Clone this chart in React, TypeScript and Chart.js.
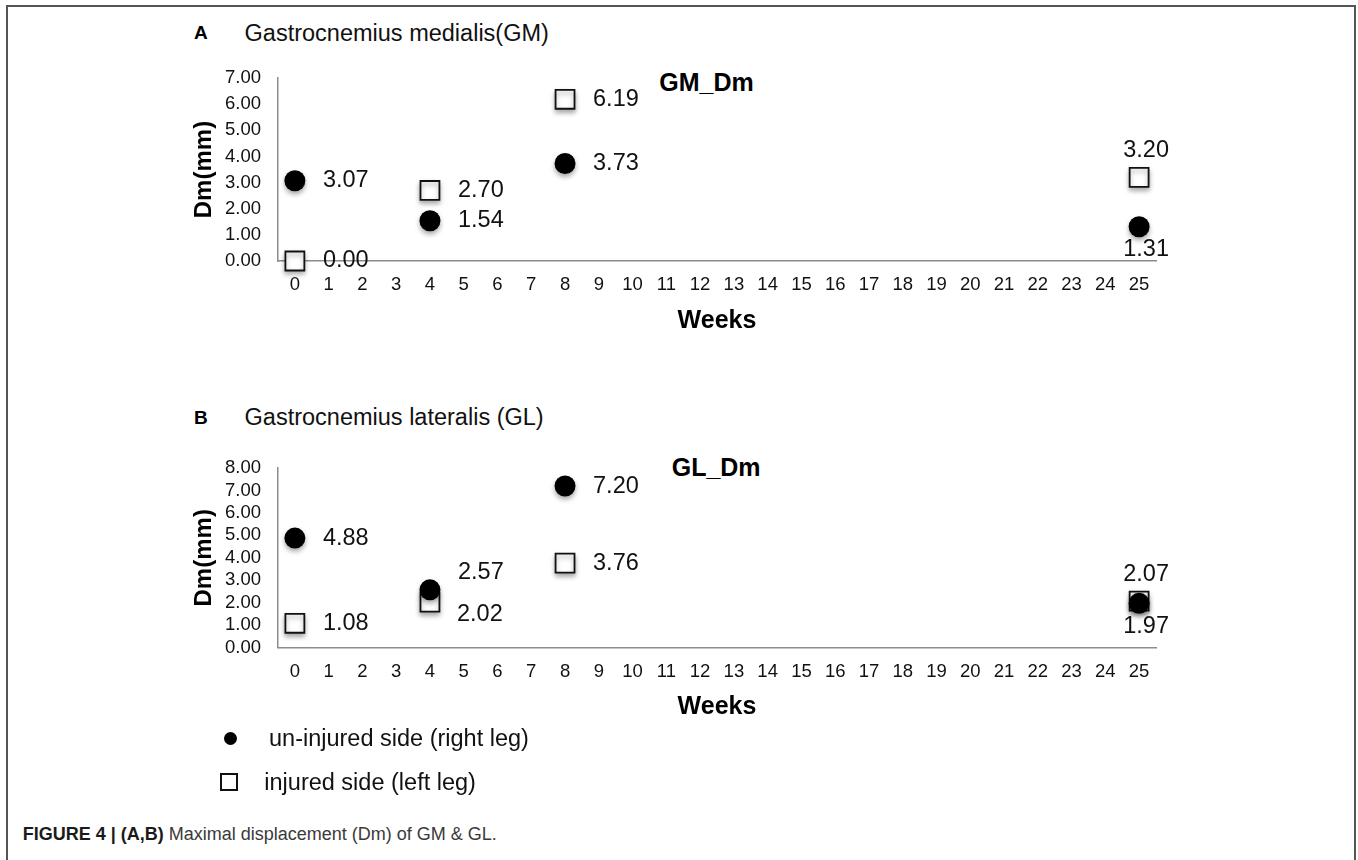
import React, { useEffect, useRef } from 'react';
import { Chart, registerables } from 'chart.js';

Chart.register(...registerables);

// ---------- data ----------
const WEEK_LABELS = ['0', '1', '2', '3', '4', '5', '6', '7', '8', '9', '10', '11', '12', '13', '14', '15', '16', '17', '18', '19', '20', '21', '22', '23', '24', '25'];

const GM_WEEKS = ['0', '4', '8', '25'];
const GM_UNINJURED = [3.07, 1.54, 3.73, 1.31];
const GM_INJURED = [0.0, 2.7, 6.19, 3.2];
const GM_Y_MAX = 7;

const GL_WEEKS = ['0', '4', '8', '25'];
const GL_UNINJURED = [4.88, 2.57, 7.2, 1.97];
const GL_INJURED = [1.08, 2.02, 3.76, 2.07];
const GL_Y_MAX = 8;

// where each value label sits relative to its marker
const GM_UNINJURED_LABEL_POS = ['right', 'right', 'right', 'below'];
const GM_INJURED_LABEL_POS = ['right', 'right', 'right', 'above'];
const GL_UNINJURED_LABEL_POS = ['right', 'aboveRight', 'right', 'below'];
const GL_INJURED_LABEL_POS = ['right', 'belowRight', 'right', 'above'];

const SERIES_NAMES = ['un-injured side (right leg)', 'injured side (left leg)'];

// ---------- style ----------
const FONT = '"Liberation Sans", Arial, Helvetica, sans-serif';
const AXIS_COLOR = '#8c8c8c';
const TEXT_COLOR = '#111';

const LABEL_OFFSETS: Record<string, { dx: number; dy: number; align: CanvasTextAlign }> = {
  right: { dx: 28, dy: 0, align: 'left' },
  aboveRight: { dx: 28, dy: -17, align: 'left' },
  belowRight: { dx: 27, dy: 12, align: 'left' },
  above: { dx: 7, dy: -27, align: 'center' },
  below: { dx: 7, dy: 23, align: 'center' },
};

const markerShadowAndLabels = {
  id: 'markerShadowAndLabels',
  beforeDatasetsDraw(chart: any) {
    const ctx = chart.ctx;
    ctx.save();
    ctx.shadowColor = 'rgba(0,0,0,0.35)';
    ctx.shadowBlur = 5;
    ctx.shadowOffsetX = 0;
    ctx.shadowOffsetY = 3;
  },
  afterDatasetsDraw(chart: any) {
    const ctx = chart.ctx;
    ctx.restore();
    ctx.save();
    ctx.font = `23.5px ${FONT}`;
    ctx.fillStyle = TEXT_COLOR;
    ctx.textBaseline = 'middle';
    chart.data.datasets.forEach((ds: any, i: number) => {
      const meta = chart.getDatasetMeta(i);
      meta.data.forEach((el: any, j: number) => {
        const o = LABEL_OFFSETS[ds.labelPos[j]];
        ctx.textAlign = o.align;
        ctx.fillText(Number(ds.data[j].y).toFixed(2), el.x + o.dx, el.y + o.dy);
      });
    });
    ctx.restore();
  },
};

interface PanelSpec {
  weeks: string[];
  uninjured: number[];
  injured: number[];
  uninjuredPos: string[];
  injuredPos: string[];
  yMax: number;
  xScaleHeight: number;
  xTitlePadBottom: number;
  xTickPad: number;
}

function makeConfig(p: PanelSpec): any {
  return {
    type: 'scatter',
    data: {
      labels: WEEK_LABELS,
      datasets: [
        {
          label: SERIES_NAMES[0],
          data: p.weeks.map((w, i) => ({ x: w, y: p.uninjured[i] })),
          pointStyle: 'circle',
          pointRadius: 10.5,
          pointHoverRadius: 10.5,
          backgroundColor: '#000',
          borderColor: '#000',
          borderWidth: 0,
          clip: false,
          labelPos: p.uninjuredPos,
        },
        {
          label: SERIES_NAMES[1],
          data: p.weeks.map((w, i) => ({ x: w, y: p.injured[i] })),
          pointStyle: 'rect',
          pointRadius: 13.4,
          pointHoverRadius: 13.4,
          backgroundColor: '#fff',
          borderColor: '#111',
          borderWidth: 1.8,
          clip: false,
          labelPos: p.injuredPos,
        },
      ],
    },
    options: {
      animation: false,
      responsive: false,
      events: [],
      layout: { padding: { left: 180, right: 202, top: 23, bottom: 0 } },
      plugins: { legend: { display: false }, tooltip: { enabled: false } },
      scales: {
        x: {
          type: 'category',
          labels: WEEK_LABELS,
          offset: true,
          grid: { display: false, drawTicks: false },
          border: { display: true, color: AXIS_COLOR, width: 1.5 },
          ticks: {
            autoSkip: false,
            maxRotation: 0,
            padding: p.xTickPad,
            color: TEXT_COLOR,
            font: { family: FONT, size: 18.5 },
          },
          title: {
            display: true,
            text: 'Weeks',
            color: '#000',
            font: { family: FONT, size: 25, weight: 'bold' },
            padding: { top: 0, bottom: p.xTitlePadBottom },
          },
          afterFit: (s: any) => {
            s.height = p.xScaleHeight;
          },
        },
        y: {
          type: 'linear',
          min: 0,
          max: p.yMax,
          grid: { display: false, drawTicks: false },
          border: { display: true, color: AXIS_COLOR, width: 1.5 },
          ticks: {
            stepSize: 1,
            autoSkip: false,
            padding: 17,
            color: TEXT_COLOR,
            font: { family: FONT, size: 18.5 },
            callback: (v: any) => Number(v).toFixed(2),
          },
          title: {
            display: true,
            text: 'Dm(mm)',
            color: '#000',
            font: { family: FONT, size: 24, weight: 'bold' },
            padding: { top: 9.6, bottom: 0 },
          },
          afterFit: (s: any) => {
            s.width = 98;
          },
        },
      },
    },
    plugins: [markerShadowAndLabels],
  };
}

function Txt(props: { x: number; cy: number; size: number; bold?: boolean; color?: string; children: React.ReactNode }) {
  const { x, cy, size, bold, color, children } = props;
  return (
    <div
      style={{
        position: 'absolute',
        left: x,
        top: cy - size * 0.6,
        fontSize: size,
        lineHeight: `${size * 1.2}px`,
        fontWeight: bold ? 'bold' : 'normal',
        color: color || TEXT_COLOR,
        whiteSpace: 'nowrap',
        fontFamily: FONT,
      }}
    >
      {children}
    </div>
  );
}

export default function App() {
  const refA = useRef<HTMLCanvasElement | null>(null);
  const refB = useRef<HTMLCanvasElement | null>(null);

  useEffect(() => {
    const charts: Chart[] = [];
    if (refA.current) {
      charts.push(
        new Chart(
          refA.current,
          makeConfig({
            weeks: GM_WEEKS,
            uninjured: GM_UNINJURED,
            injured: GM_INJURED,
            uninjuredPos: GM_UNINJURED_LABEL_POS,
            injuredPos: GM_INJURED_LABEL_POS,
            yMax: GM_Y_MAX,
            xScaleHeight: 89,
            xTitlePadBottom: 14.3,
            xTickPad: 12.9,
          })
        )
      );
    }
    if (refB.current) {
      charts.push(
        new Chart(
          refB.current,
          makeConfig({
            weeks: GL_WEEKS,
            uninjured: GL_UNINJURED,
            injured: GL_INJURED,
            uninjuredPos: GL_UNINJURED_LABEL_POS,
            injuredPos: GL_INJURED_LABEL_POS,
            yMax: GL_Y_MAX,
            xScaleHeight: 82.5,
            xTitlePadBottom: 8.3,
            xTickPad: 13.7,
          })
        )
      );
    }
    return () => charts.forEach((c) => c.destroy());
  }, []);

  return (
    <div
      style={{
        position: 'absolute',
        left: 0,
        top: 0,
        width: 1358,
        height: 860,
        background: '#fff',
        overflow: 'hidden',
        fontFamily: FONT,
      }}
    >
      <div
        style={{
          position: 'absolute',
          left: 6,
          top: 5,
          width: 1350,
          height: 900,
          boxSizing: 'border-box',
          borderLeft: '2px solid #555',
          borderTop: '2px solid #555',
          borderRight: '2px solid #555',
        }}
      />

      <Txt x={194} cy={33.3} size={19} bold color="#000">A</Txt>
      <Txt x={244.6} cy={33} size={23.5}>Gastrocnemius medialis(GM)</Txt>
      <Txt x={659.3} cy={81.7} size={25} bold color="#000">GM_Dm</Txt>

      <Txt x={194} cy={418.3} size={19} bold color="#000">B</Txt>
      <Txt x={244.6} cy={416.7} size={23.5}>Gastrocnemius lateralis (GL)</Txt>
      <Txt x={671.7} cy={466.7} size={25} bold color="#000">GL_Dm</Txt>

      <canvas ref={refA} width={1358} height={300} style={{ position: 'absolute', left: 0, top: 50, width: 1358, height: 300 }} />
      <canvas ref={refB} width={1358} height={290} style={{ position: 'absolute', left: 0, top: 440, width: 1358, height: 290 }} />

      {/* legend */}
      <div
        style={{
          position: 'absolute',
          left: 230 - 6.5,
          top: 738.3 - 6.5,
          width: 13,
          height: 13,
          borderRadius: '50%',
          background: '#000',
        }}
      />
      <Txt x={269} cy={738} size={23.5}>{SERIES_NAMES[0]}</Txt>
      <div
        style={{
          position: 'absolute',
          left: 229.3 - 9,
          top: 781.7 - 9,
          width: 18,
          height: 18,
          boxSizing: 'border-box',
          border: '2px solid #111',
          background: '#fff',
        }}
      />
      <Txt x={264.3} cy={781.7} size={23.5}>{SERIES_NAMES[1]}</Txt>

      {/* caption */}
      <Txt x={22.7} cy={835} size={18} color="#3a3a3a">
        <span style={{ fontWeight: 'bold', color: '#1a1a1a' }}>FIGURE 4 | (A,B)</span> Maximal displacement (Dm) of GM &amp; GL.
      </Txt>
    </div>
  );
}
